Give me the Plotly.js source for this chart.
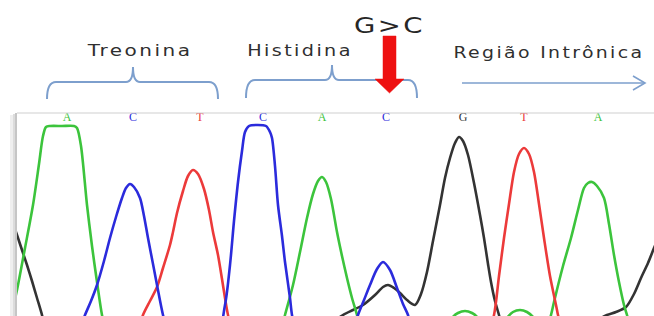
<!DOCTYPE html>
<html>
<head>
<meta charset="utf-8">
<script src="https://cdn.plot.ly/plotly-3.0.1.min.js"></script>
<style>
  html, body { margin: 0; padding: 0; background: #fff; }
  #chart { width: 654px; height: 316px; }
  .annotation-text { letter-spacing: 2px; transform-box: fill-box; transform-origin: center; }
  g.annotation[data-index="0"] .annotation-text { transform: scaleX(1.25); }
  g.annotation[data-index="1"] .annotation-text { transform: scaleX(1.2); }
  g.annotation[data-index="2"] .annotation-text { transform: scaleX(1.18); }
  g.annotation[data-index="3"] .annotation-text { transform: scaleX(1.25); }
</style>
</head>
<body>
<div id="chart"></div>
<script>
// ---- Data (scan position vs. signal intensity) ----
const baseCalls = ['A', 'C', 'T', 'C', 'A', 'C', 'G', 'T', 'A'];
const basePos   = [67, 133, 200, 263, 322, 386, 463, 524, 598];

// Channel A (green)
const aX = [12, 17, 25, 33, 39, 43, 46, 50, 62, 74, 77, 81, 87, 92, 97, 102, 108,
            278, 285, 293, 300, 307, 313, 318, 322, 326, 331, 337, 342, 347, 352, 357, 363,
            445, 452, 458, 465, 472, 478, 485, 500, 507, 513, 520, 527, 534, 541,
            547, 551, 554, 563, 571, 578, 584, 588, 592, 597, 604, 609, 614, 619, 624, 627, 633, 660];
const aY = [5, 26, 68, 111, 152, 180, 189, 190, 190, 190, 188, 170, 111, 70, 34, 1, -25,
            -25, 1, 31, 64, 98, 122, 135, 139, 134, 117, 84, 60, 38, 18, 1, -25,
            -15, -2, 3, 5, 3, -2, -15, -15, -2, 4, 6, 4, -2, -12,
            -12, 1, 14, 50, 78, 106, 128, 133, 134, 130, 118, 92, 61, 34, 11, 1, -20, -25];

// Channel C (blue)
const cX = [75, 85, 91, 97, 104, 110, 116, 122, 126, 130, 134, 140, 144, 148, 153, 157, 163, 170,
            215, 225, 230, 234, 238, 242, 245, 249, 257, 266, 270, 272, 275, 278, 282, 285, 290, 292, 298,
            350, 358, 364, 370, 377, 383, 390, 397, 403, 408, 415, 660];
const cY = [-25, 1, 15, 31, 55, 78, 99, 118, 128, 132, 129, 118, 100, 78, 52, 31, 1, -25,
            -25, 11, 51, 95, 134, 165, 184, 190, 191, 190, 184, 178, 150, 111, 80, 54, 18, 1, -25,
            -25, 1, 16, 31, 47, 54, 46, 28, 12, 1, -25, -25];

// Channel T (red)
const tX = [135, 143, 150, 157, 163, 170, 173, 177, 183, 188, 193, 198, 204, 209, 213, 218, 222, 225, 228, 235,
            486, 494, 499, 504, 509, 514, 519, 524, 529, 534, 539, 544, 550, 556, 558, 565];
const tY = [-25, 1, 15, 29, 48, 71, 84, 103, 125, 140, 146, 142, 127, 106, 84, 61, 37, 18, 1, -25,
            -25, 1, 40, 78, 112, 144, 162, 168, 162, 144, 112, 78, 40, 11, 1, -25];

// Channel G (black)
const gX = [12, 17, 22, 27, 32, 37, 42, 48, 320, 335, 343, 353, 363, 375, 383, 388, 394, 400, 407, 415,
            421, 427, 433, 440, 445, 450, 455, 459, 463, 468, 474, 480, 484, 488, 491, 495, 499, 505,
            590, 600, 607, 616, 626, 634, 641, 648, 654, 660];
const gY = [96, 81, 66, 51, 35, 18, 1, -25, -25, -5, 1, 6, 11, 21, 29, 31, 28, 23, 16, 11,
            22, 44, 75, 111, 138, 158, 173, 179, 175, 161, 133, 101, 78, 52, 34, 15, 1, -20,
            -20, -3, 1, 4, 9, 22, 38, 53, 68, 82];

const channelColors = { A: '#3cc43c', C: '#2b2bdc', T: '#ec3a3a', G: '#333333' };

// ---- helpers for decorations (pixel -> paper) ----
const L = 17, T0 = 113, W = 637, H = 203;
const pxX = x => (x - L) / W;
const pxY = y => (316 - y) / H;
function pt(x, y) { return pxX(x).toFixed(5) + ',' + pxY(y).toFixed(5); }
function bracePath(x0, x1, cx, yMid, yTip, yEnd) {
  return 'M' + pt(x0, yEnd) +
         ' Q' + pt(x0, yMid) + ' ' + pt(x0 + 9, yMid) +
         ' L' + pt(cx - 7, yMid) +
         ' Q' + pt(cx, yMid) + ' ' + pt(cx, yTip) +
         ' Q' + pt(cx, yMid) + ' ' + pt(cx + 7, yMid) +
         ' L' + pt(x1 - 9, yMid) +
         ' Q' + pt(x1, yMid) + ' ' + pt(x1, yEnd);
}

const lineStyle = c => ({ color: c, width: 2.6, shape: 'spline', smoothing: 0.8 });

const traces = [
  { x: gX, y: gY, mode: 'lines', line: lineStyle(channelColors.G), hoverinfo: 'skip' },
  { x: aX, y: aY, mode: 'lines', line: lineStyle(channelColors.A), hoverinfo: 'skip' },
  { x: tX, y: tY, mode: 'lines', line: lineStyle(channelColors.T), hoverinfo: 'skip' },
  { x: cX, y: cY, mode: 'lines', line: lineStyle(channelColors.C), hoverinfo: 'skip' },
  { x: basePos, y: basePos.map(() => 198), mode: 'text', text: baseCalls,
    textposition: 'middle center', cliponaxis: false, hoverinfo: 'skip',
    textfont: { family: 'Liberation Serif', size: 12, color: baseCalls.map(b => channelColors[b]) } }
];

const braceColor = '#7d9fcd';
const shapes = [
  // left shadow of the frame
  { type: 'rect', xref: 'paper', yref: 'paper', x0: pxX(10), x1: pxX(13), y0: pxY(316), y1: pxY(115), fillcolor: '#efefef', line: { width: 0 } },
  { type: 'rect', xref: 'paper', yref: 'paper', x0: pxX(13), x1: pxX(15), y0: pxY(316), y1: pxY(114), fillcolor: '#dcdcdc', line: { width: 0 } },
  { type: 'rect', xref: 'paper', yref: 'paper', x0: pxX(15), x1: pxX(17), y0: pxY(316), y1: pxY(113), fillcolor: '#c6c6c6', line: { width: 0 } },
  // top frame line
  { type: 'line', xref: 'paper', yref: 'paper', x0: 0, x1: 1, y0: 1, y1: 1, line: { color: '#cfcfcf', width: 1.2 } },
  // braces
  { type: 'path', xref: 'paper', yref: 'paper', path: bracePath(47, 218, 133, 82, 67, 99), line: { color: braceColor, width: 2 } },
  { type: 'path', xref: 'paper', yref: 'paper', path: bracePath(246, 417, 332, 80, 65, 98), line: { color: braceColor, width: 2 } },
  // intronic region arrow
  { type: 'line', xref: 'paper', yref: 'paper', x0: pxX(462), x1: pxX(645), y0: pxY(83), y1: pxY(83), line: { color: braceColor, width: 1.6 } },
  { type: 'path', xref: 'paper', yref: 'paper', path: 'M' + pt(633, 76) + ' L' + pt(645, 83) + ' L' + pt(633, 90), line: { color: braceColor, width: 1.6 } },
  // red mutation arrow
  { type: 'path', xref: 'paper', yref: 'paper',
    path: 'M' + pt(383, 36) + ' L' + pt(396, 36) + ' L' + pt(396, 79) + ' L' + pt(404, 79) + ' L' + pt(389.5, 93) +
          ' L' + pt(375, 79) + ' L' + pt(383, 79) + ' Z',
    fillcolor: '#ee1111', line: { color: '#ee1111', width: 0.5 } }
];

const labelFont = { family: 'DejaVu Sans', size: 16, color: '#2f2f2f' };
const annotations = [
  { text: 'Treonina', x: pxX(139), y: pxY(50), xref: 'paper', yref: 'paper', showarrow: false, xanchor: 'center', yanchor: 'middle', font: labelFont },
  { text: 'Histidina', x: pxX(300), y: pxY(50), xref: 'paper', yref: 'paper', showarrow: false, xanchor: 'center', yanchor: 'middle', font: labelFont },
  { text: 'Região Intrônica', x: pxX(549), y: pxY(52), xref: 'paper', yref: 'paper', showarrow: false, xanchor: 'center', yanchor: 'middle', font: labelFont },
  { text: 'G>C', x: pxX(389), y: pxY(25), xref: 'paper', yref: 'paper', showarrow: false, xanchor: 'center', yanchor: 'middle',
    font: { family: 'DejaVu Sans', size: 22, color: '#262626' } }
];

const layout = {
  width: 654, height: 316,
  margin: { l: L, r: 0, t: T0, b: 0, pad: 0 },
  paper_bgcolor: '#ffffff', plot_bgcolor: '#ffffff',
  showlegend: false,
  xaxis: { range: [17, 654], visible: false, fixedrange: true },
  yaxis: { range: [0, 203], visible: false, fixedrange: true },
  shapes: shapes,
  annotations: annotations
};

Plotly.newPlot('chart', traces, layout, { staticPlot: true, displayModeBar: false });
</script>
</body>
</html>
